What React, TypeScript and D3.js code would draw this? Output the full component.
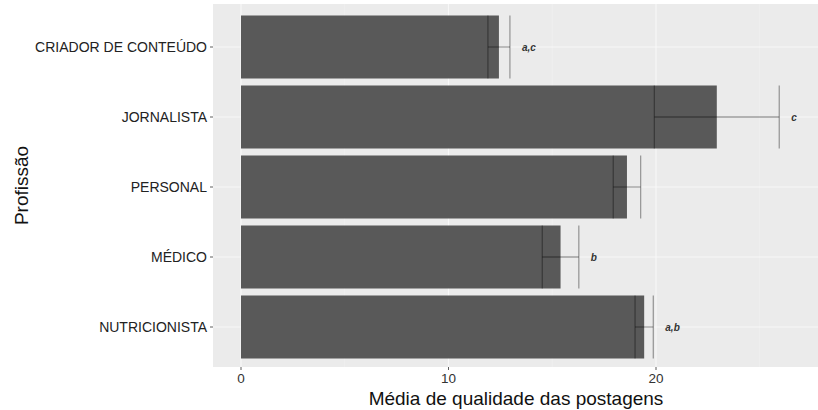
import React from "react";
import * as d3 from "d3";

const categories = ["CRIADOR DE CONTEÚDO", "JORNALISTA", "PERSONAL", "MÉDICO", "NUTRICIONISTA"];
const means = [12.43, 22.93, 18.6, 15.4, 19.43];
const errors = [0.53, 3.01, 0.66, 0.88, 0.44];
const letters = ["a,c", "c", "", "b", "a,b"];
const xTicks = [0, 10, 20];
const xMinor = [5, 15, 25];

const W = 818;
const H = 410;
const panel = { left: 213, right: 818, top: 4, bottom: 367 };

export default function App() {
  const x = d3.scaleLinear().domain([0, 10]).range([241, 448.5]);
  const y = d3
    .scaleBand<string>()
    .domain(categories)
    .range([panel.top + 8, panel.bottom - 5])
    .paddingInner(0.1)
    .paddingOuter(0.05);
  const bw = y.bandwidth();
  const font = "Liberation Sans, Arial, sans-serif";
  return (
    <svg width={W} height={H} style={{ position: "absolute", left: 0, top: 0 }} fontFamily={font}>
      <rect x={0} y={0} width={W} height={H} fill="#ffffff" />
      <rect
        x={panel.left}
        y={panel.top}
        width={panel.right - panel.left}
        height={panel.bottom - panel.top}
        fill="#EBEBEB"
      />
      {xMinor.map((t) => (
        <line key={"mi" + t} x1={x(t)} x2={x(t)} y1={panel.top} y2={panel.bottom} stroke="#F2F2F2" strokeWidth={0.7} />
      ))}
      {xTicks.map((t) => (
        <line key={"ma" + t} x1={x(t)} x2={x(t)} y1={panel.top} y2={panel.bottom} stroke="#F7F7F7" strokeWidth={1.1} />
      ))}
      {categories.map((c) => (
        <line
          key={"hg" + c}
          x1={panel.left}
          x2={panel.right}
          y1={y(c)! + bw / 2}
          y2={y(c)! + bw / 2}
          stroke="#F7F7F7"
          strokeWidth={1.1}
        />
      ))}
      {categories.map((c, i) => (
        <rect key={"b" + c} x={x(0)} y={y(c)!} width={x(means[i]) - x(0)} height={bw} fill="#595959" />
      ))}
      {categories.map((c, i) => {
        const lo = x(means[i] - errors[i]);
        const hi = x(means[i] + errors[i]);
        const cy = y(c)! + bw / 2;
        return (
          <g key={"e" + c} stroke="#000" strokeOpacity={0.35} strokeWidth={1.3}>
            <line x1={lo} x2={hi} y1={cy} y2={cy} />
            <line x1={lo} x2={lo} y1={y(c)!} y2={y(c)! + bw} />
            <line x1={hi} x2={hi} y1={y(c)!} y2={y(c)! + bw} />
          </g>
        );
      })}
      {categories.map((c, i) =>
        letters[i] ? (
          <text
            key={"l" + c}
            x={x(means[i] + errors[i]) + 12}
            y={y(c)! + bw / 2}
            dy="0.35em"
            fontSize={10}
            fontWeight="bold"
            fontStyle="italic"
            fill="#333"
          >
            {letters[i]}
          </text>
        ) : null
      )}
      {categories.map((c) => (
        <g key={"yt" + c}>
          <line x1={panel.left - 3} x2={panel.left} y1={y(c)! + bw / 2} y2={y(c)! + bw / 2} stroke="#333" strokeWidth={0.8} />
          <text x={panel.left - 6} y={y(c)! + bw / 2} dy="0.35em" textAnchor="end" fontSize={14} fill="#222">
            {c}
          </text>
        </g>
      ))}
      {xTicks.map((t) => (
        <g key={"xt" + t}>
          <line x1={x(t)} x2={x(t)} y1={panel.bottom} y2={panel.bottom + 3} stroke="#333" strokeWidth={0.8} />
          <text x={x(t)} y={panel.bottom + 16} textAnchor="middle" fontSize={13.5} fill="#333">
            {t}
          </text>
        </g>
      ))}
      <text x={516} y={405} textAnchor="middle" fontSize={19} fill="#111">
        Média de qualidade das postagens
      </text>
      <text transform={`translate(28,${(panel.top + panel.bottom) / 2}) rotate(-90)`} textAnchor="middle" fontSize={19} fill="#111">
        Profissão
      </text>
    </svg>
  );
}
